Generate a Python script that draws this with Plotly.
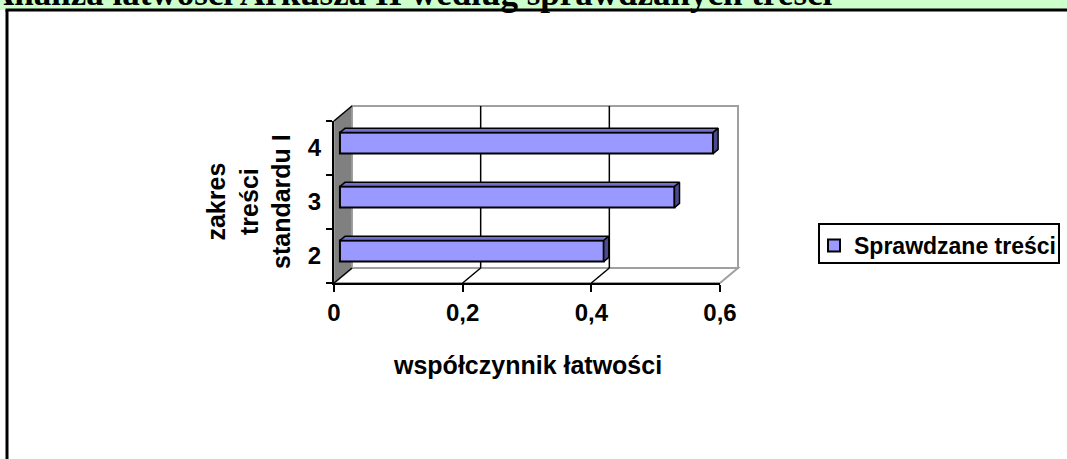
import plotly.graph_objects as go

# ---------------- data ----------------
categories = ["2", "3", "4"]
values = [0.41, 0.52, 0.58]
x_ticks = [0, 0.2, 0.4, 0.6]
x_tick_labels = ["0", "0,2", "0,4", "0,6"]
series_name = "Sprawdzane treści"
title_text = "Analiza łatwości Arkusza II według sprawdzanych treści"
x_title = "współczynnik łatwości"
y_title = "zakres<br>treści<br>standardu I"

# ---------------- layout geometry (pixels) ----------------
W, H = 1067, 459
PX0, PX1 = 334, 720      # front-plane pixel of x=0 and x=max
PYB, PYT = 283, 121      # front-plane pixel of bottom / top of category axis
XMAX = x_ticks[-1]
ncat = len(categories)
sx = (PX1 - PX0) / XMAX
sy = (PYB - PYT) / ncat
DX = 18 / sx             # chart depth in x units
DY = 15 / sy             # chart depth in category units
F1, F2 = 0.33, 0.61      # bar front/back depth fractions
BAR_H = 0.39

FONT = "Liberation Sans, Arial, sans-serif"
FRONT = "#9999FF"
TOP = "#7070D0"
SIDE = "#4B4B8C"
GRAY = "#A0A0A0"

def pxx(p):
    return p / W

def pxy(p):
    return 1 - p / H

fig = go.Figure()

# front faces of bars
ypos = [i + F1 * DY for i in range(ncat)]
fig.add_trace(go.Bar(
    x=values, y=ypos, base=F1 * DX, orientation="h", width=BAR_H,
    marker=dict(color=FRONT, line=dict(color="black", width=2)),
    name=series_name, showlegend=True, xaxis="x2", yaxis="y2",
    hoverinfo="skip",
))

# top and side faces
ddx = (F2 - F1) * DX
ddy = (F2 - F1) * DY
x0 = F1 * DX
for i, v in enumerate(values):
    yb = ypos[i] - BAR_H / 2
    yt = ypos[i] + BAR_H / 2
    fig.add_trace(go.Scatter(
        x=[x0, x0 + v, x0 + v + ddx, x0 + ddx, x0],
        y=[yt, yt, yt + ddy, yt + ddy, yt],
        fill="toself", fillcolor=TOP, mode="lines",
        line=dict(color="black", width=1.5), showlegend=False,
        xaxis="x2", yaxis="y2", hoverinfo="skip",
    ))
    fig.add_trace(go.Scatter(
        x=[x0 + v, x0 + v, x0 + v + ddx, x0 + v + ddx, x0 + v],
        y=[yb, yt, yt + ddy, yb + ddy, yb],
        fill="toself", fillcolor=SIDE, mode="lines",
        line=dict(color="black", width=1.5), showlegend=False,
        xaxis="x2", yaxis="y2", hoverinfo="skip",
    ))

# walls / floor on the full-page axes
yb0 = -0.5
yt0 = ncat - 0.5
shapes = []
shapes.append(dict(type="rect", xref="x", yref="y", x0=DX, x1=XMAX + DX,
                   y0=yb0 + DY, y1=yt0 + DY, fillcolor="white",
                   line=dict(color=GRAY, width=2), layer="below"))
shapes.append(dict(type="path", xref="x", yref="y",
                   path=f"M0,{yb0} L{XMAX},{yb0} L{XMAX + DX},{yb0 + DY} L{DX},{yb0 + DY} Z",
                   fillcolor="white", line=dict(color=GRAY, width=2), layer="below"))
shapes.append(dict(type="path", xref="x", yref="y",
                   path=f"M0,{yb0} L0,{yt0} L{DX},{yt0 + DY} L{DX},{yb0 + DY} Z",
                   fillcolor="#808080", line=dict(color=GRAY, width=1.5), layer="below"))
for t in x_ticks[1:-1]:
    shapes.append(dict(type="line", xref="x", yref="y", x0=t + DX, x1=t + DX,
                       y0=yb0 + DY, y1=yt0 + DY, line=dict(color="black", width=1.5),
                       layer="below"))
for t in x_ticks[:-1]:
    shapes.append(dict(type="line", xref="x", yref="y", x0=t, x1=t + DX,
                       y0=yb0, y1=yb0 + DY, line=dict(color="black", width=1.5),
                       layer="below"))
shapes.append(dict(type="line", xref="x", yref="y", x0=0, x1=DX,
                   y0=yt0, y1=yt0 + DY, line=dict(color="black", width=1.5),
                   layer="below"))

# page decoration: green banner and black frame
shapes.append(dict(type="rect", xref="paper", yref="paper", x0=0, x1=1,
                   y0=pxy(10), y1=1, fillcolor="#CCFFCC", line=dict(width=0),
                   layer="below"))
shapes.append(dict(type="line", xref="paper", yref="paper", x0=pxx(5.5), x1=1,
                   y0=pxy(10), y1=pxy(10), line=dict(color="black", width=3)))
shapes.append(dict(type="line", xref="paper", yref="paper", x0=pxx(7), x1=pxx(7),
                   y0=0, y1=pxy(10), line=dict(color="black", width=3)))
# legend box
shapes.append(dict(type="rect", xref="paper", yref="paper", x0=pxx(819), x1=pxx(1059),
                   y0=pxy(263), y1=pxy(224), line=dict(color="black", width=2),
                   fillcolor="rgba(0,0,0,0)"))

annotations = [
    dict(text=title_text, xref="paper", yref="paper", x=pxx(835), y=pxy(15),
         xanchor="right", yanchor="bottom", showarrow=False,
         font=dict(family="Liberation Serif, Times New Roman, serif", size=35,
                   color="black", weight="bold")),
    dict(text=x_title, xref="paper", yref="paper", x=pxx(527), y=pxy(365),
         xanchor="center", yanchor="middle", showarrow=False,
         font=dict(family=FONT, size=25, color="black", weight="bold")),
    dict(text=y_title, xref="paper", yref="paper", x=pxx(249), y=pxy(202),
         xanchor="center", yanchor="middle", showarrow=False, textangle=-90,
         font=dict(family=FONT, size=25, color="black", weight="bold")),
]

fig.update_layout(
    width=W, height=H, margin=dict(l=0, r=0, t=0, b=0, autoexpand=False),
    autosize=False,
    paper_bgcolor="white", plot_bgcolor="rgba(0,0,0,0)",
    shapes=shapes, annotations=annotations, barmode="overlay",
    xaxis=dict(domain=[0, 1], range=[-PX0 / sx, (W - PX0) / sx], visible=False,
               fixedrange=True),
    yaxis=dict(domain=[0, 1], range=[-0.5 - (H - PYB) / sy, -0.5 + PYB / sy],
               visible=False, fixedrange=True),
    xaxis2=dict(domain=[pxx(PX0), pxx(PX1)], range=[0, XMAX], anchor="y2",
                showline=True, linecolor="black", linewidth=2,
                ticks="outside", ticklen=7, tickwidth=2, tickcolor="black",
                tickvals=x_ticks, ticktext=x_tick_labels, showgrid=False,
                zeroline=False, fixedrange=True,
                tickfont=dict(family=FONT, size=24, color="black", weight="bold")),
    yaxis2=dict(domain=[pxy(PYB), pxy(PYT)], range=[-0.5, ncat - 0.5], anchor="x2",
                showline=True, linecolor="black", linewidth=2, ticks="",
                tickvals=list(range(ncat)), ticktext=categories, showgrid=False,
                zeroline=False, fixedrange=True, ticklabelstandoff=6,
                minor=dict(tickvals=[i - 0.5 for i in range(ncat + 1)], ticks="outside",
                           ticklen=6, tickwidth=2, tickcolor="black", showgrid=False),
                tickfont=dict(family=FONT, size=24, color="black", weight="bold")),
    showlegend=True,
    legend=dict(x=pxx(814), y=pxy(224), xanchor="left", yanchor="top",
                bgcolor="rgba(0,0,0,0)", borderwidth=0,
                font=dict(family=FONT, size=23, color="black", weight="bold")),
)

fig.write_html("out.html", config={"displayModeBar": False},
               post_script="document.body.style.margin='0';document.body.style.overflow='hidden';")
